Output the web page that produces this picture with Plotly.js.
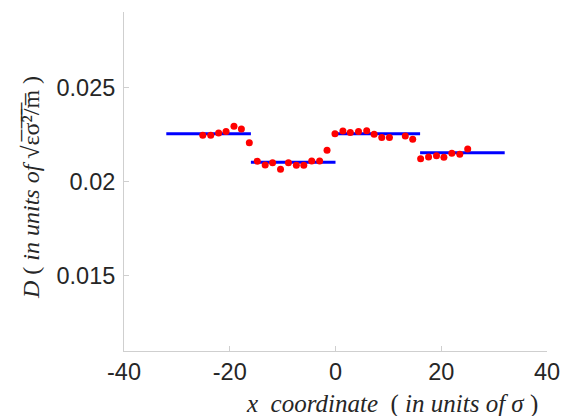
<!DOCTYPE html>
<html>
<head>
<meta charset="utf-8">
<script src="https://cdn.plot.ly/plotly-3.0.1.min.js"></script>
<style>html,body{margin:0;padding:0;background:#fff;}#chart{width:571px;height:416px;}</style>
</head>
<body>
<div id="chart"></div>
<script>
// Simulation points: x position and diffusion coefficient D
const xPoints = [-25.1,-23.6,-22.1,-20.7,-19.2,-17.8,-16.3,-14.8,-13.3,-11.9,-10.4,-8.9,-7.4,-6.0,-4.5,-3.0,-1.6,-0.1,
                 1.4,2.8,4.35,5.9,7.3,8.75,10.2,13.2,14.6,16.1,17.6,19.1,20.5,22.0,23.5,25.0];
const dPoints = [0.02246,0.02246,0.02258,0.02265,0.02293,0.02279,0.02206,0.02108,0.02088,0.02099,0.02065,0.02099,0.02086,0.02086,0.02109,0.02109,0.02166,0.02254,
                 0.02268,0.02260,0.02265,0.02270,0.02251,0.02233,0.02233,0.02242,0.02224,0.02121,0.02130,0.02137,0.02129,0.02150,0.02145,0.02173];
// Theoretical step values per region
const segStart = [-32,-16,0,16];
const segEnd   = [-16,0,16,32];
const segD     = [0.02253,0.02102,0.02253,0.02152];
const xTicks = [-40,-20,0,20,40];
const yTicks = [0.015,0.02,0.025];
const yTickText = ['0.015','0.02','0.025'];

const traces = [];
for (let i = 0; i < segD.length; i++) {
  traces.push({x:[segStart[i],segEnd[i]], y:[segD[i],segD[i]], mode:'lines',
    line:{color:'#0000ff', width:3}, showlegend:false, hoverinfo:'skip'});
}
traces.push({x:xPoints, y:dPoints, mode:'markers', type:'scatter',
  marker:{color:'#ff0000', size:7}, showlegend:false});

const axisCommon = {
  showgrid:false, zeroline:false, showline:true, linecolor:'#cfcfcf', linewidth:1,
  ticks:'inside', ticklen:5, tickcolor:'#cfcfcf', tickwidth:1,
  tickfont:{family:'Liberation Sans, Arial, sans-serif', size:23.5, color:'#262626'},
  mirror:false
};

const layout = {
  width:571, height:416,
  margin:{l:124, r:24, t:12, b:65},
  paper_bgcolor:'#fff', plot_bgcolor:'#fff',
  xaxis:Object.assign({}, axisCommon, {range:[-40,40], tickvals:xTicks, ticktext:xTicks.map(String)}),
  yaxis:Object.assign({}, axisCommon, {range:[0.011,0.029], tickvals:yTicks, ticktext:yTickText, ticklabelstandoff:3}),
  annotations:[
    {text:'<i>x  coordinate</i>  ( <i>in units of σ</i> )', xref:'paper', yref:'paper',
     x:(392-124)/423, y:-(404-351)/339, xanchor:'center', yanchor:'middle', showarrow:false,
     font:{family:'Liberation Serif, Times New Roman, serif', size:25, color:'#262626'}},
    {text:'<i>D</i> ( <i>in units of</i> √ε̅σ̅²̅/̅m̅ )', xref:'paper', yref:'paper',
     x:-(124-31)/423, y:(351-188)/339, xanchor:'center', yanchor:'middle', textangle:-90, showarrow:false,
     font:{family:'Liberation Serif, Times New Roman, serif', size:24, color:'#262626'}}
  ]
};

Plotly.newPlot('chart', traces, layout, {staticPlot:true, displayModeBar:false});
</script>
</body>
</html>
